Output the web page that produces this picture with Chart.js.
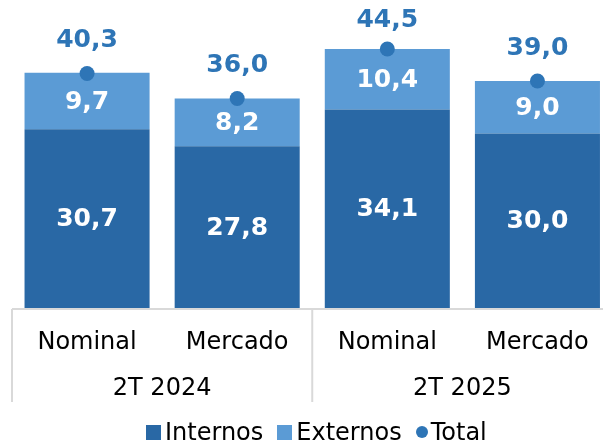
<!DOCTYPE html>
<html>
<head>
<meta charset="utf-8">
<script src="https://cdn.jsdelivr.net/npm/chart.js@4.4.0/dist/chart.umd.min.js"></script>
<style>
  html, body { margin: 0; padding: 0; overflow: hidden; background: #fff; }
  #wrap { position: relative; width: 620px; height: 444px; }
  #legend {
    position: absolute; left: 146px; top: 418px;
    font-family: 'DejaVu Sans', Verdana, sans-serif; font-size: 24px; color: #000;
    white-space: nowrap; line-height: 28px;
  }
  #legend span.box { display: inline-block; width: 15px; height: 15px; margin-right: 4px; vertical-align: 0px; }
  #legend span.dot { display: inline-block; width: 12px; height: 12px; border-radius: 50%; margin-right: 3px; vertical-align: 2px; }
  #legend span.item { margin-right: 14px; }
</style>
</head>
<body>
<div id="wrap">
  <canvas id="barChart" width="620" height="444"></canvas>
  <div id="legend">
    <span class="item"><span class="box" style="background:#2968a5"></span>Internos</span><span class="item"><span class="box" style="background:#5b9bd5"></span>Externos</span><span class="item"><span class="dot" style="background:#2e75b6"></span>Total</span>
  </div>
</div>
<script>
var labels = ['Nominal', 'Mercado', 'Nominal', 'Mercado'];
var groups = ['2T 2024', '2T 2025'];
var internos = [30.7, 27.8, 34.1, 30.0];
var externos = [9.7, 8.2, 10.4, 9.0];
var total = [40.3, 36.0, 44.5, 39.0];

var font = "'DejaVu Sans', Verdana, sans-serif";

function fmt(v) {
  return v.toFixed(1).replace('.', ',');
}

// value labels + group labels and separators under the axis
var extras = {
  id: 'extras',
  afterDatasetsDraw: function(chart) {
    var c = chart.ctx;
    c.save();
    c.textAlign = 'center';
    c.textBaseline = 'middle';
    c.font = 'bold 25px ' + font;
    chart.data.datasets.forEach(function(ds, i) {
      var meta = chart.getDatasetMeta(i);
      meta.data.forEach(function(el, j) {
        var v = ds.data[j];
        if (ds.type === 'line') {
          c.fillStyle = '#2e75b6';
          // keep the label inside the top of the canvas, like the original
          c.fillText(fmt(v), el.x, Math.max(el.y - 33, 20));
        } else {
          c.fillStyle = '#ffffff';
          c.fillText(fmt(v), el.x, (el.y + el.base) / 2 + 1);
        }
      });
    });
    c.restore();
  },
  afterDraw: function(chart) {
    var c = chart.ctx;
    var x = chart.scales.x;
    var y0 = chart.chartArea.bottom + 1;
    var half = (x.getPixelForValue(1) - x.getPixelForValue(0)) / 2;
    var edges = [x.getPixelForValue(0) - half, x.getPixelForValue(1) + half, x.getPixelForValue(3) + half];
    c.save();
    c.strokeStyle = '#d9d9d9';
    c.lineWidth = 2;
    c.beginPath();
    c.moveTo(edges[0], y0);
    c.lineTo(edges[2], y0);
    edges.forEach(function(e) {
      c.moveTo(e, y0);
      c.lineTo(e, y0 + 93);
    });
    c.stroke();
    c.fillStyle = '#000';
    c.font = '24px ' + font;
    c.textAlign = 'center';
    c.textBaseline = 'middle';
    groups.forEach(function(g, k) {
      c.fillText(g, (edges[k] + edges[k + 1]) / 2, y0 + 80);
    });
    c.restore();
  }
};

var ctx = document.getElementById('barChart').getContext('2d');
var myChart = new Chart(ctx, {
  type: 'bar',
  data: {
    labels: labels,
    datasets: [
      {
        type: 'line',
        label: 'Total',
        data: total,
        showLine: false,
        pointRadius: 7.5,
        pointHoverRadius: 7.5,
        pointBackgroundColor: '#2e75b6',
        pointBorderWidth: 0,
        borderColor: '#2e75b6',
        stack: 'total',
        order: 0
      },
      {
        label: 'Internos',
        data: internos,
        backgroundColor: '#2968a5',
        stack: 'bars',
        order: 1
      },
      {
        label: 'Externos',
        data: externos,
        backgroundColor: '#5b9bd5',
        stack: 'bars',
        order: 1
      }
    ]
  },
  options: {
    responsive: false,
    animation: false,
    layout: { padding: { left: 12, right: 0, top: 17, bottom: 0 } },
    datasets: {
      bar: { categoryPercentage: 1, barPercentage: 0.833 }
    },
    scales: {
      x: {
        stacked: true,
        grid: { display: false, drawTicks: false },
        border: { display: false },
        ticks: {
          color: '#000',
          padding: 20,
          font: { family: font, size: 24 }
        },
        afterFit: function(s) { s.height = 136; }
      },
      y: {
        stacked: true,
        display: false,
        min: 0,
        max: 50
      }
    },
    plugins: {
      legend: { display: false },
      tooltip: { enabled: false }
    }
  },
  plugins: [extras]
});
</script>
</body>
</html>
